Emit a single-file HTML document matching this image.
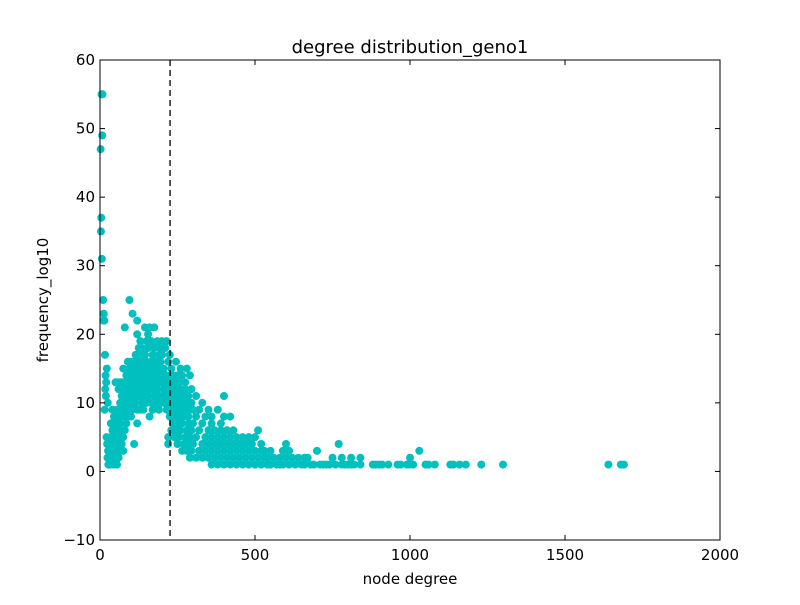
<!DOCTYPE html>
<html><head><meta charset="utf-8"><style>
body{margin:0;background:#fff}
svg text{font-family:"DejaVu Sans","Liberation Sans",sans-serif;fill:#000}
</style></head><body>
<svg id="chart" width="800" height="600">
<rect width="800" height="600" fill="#fff"/>
</svg>
<script>
const xTicks=[0,500,1000,1500,2000];
const yTicks=[-10,0,10,20,30,40,50,60];
const degrees=[2,5,8,7,4,3,6,10,12,11,14,16,18,20,17,19,15,22,25,21,23,26,24,28,30,27,
35,40,45,50,55,60,65,70,75,80,85,90,95,100,105,110,115,120,125,130,135,140,145,150,155,160,165,170,175,180,185,190,195,200,205,210,215,220,225,230,235,240,245,250,255,260,265,270,275,280,285,290,295,300,310,320,330,340,350,360,370,380,390,400,410,420,430,440,450,460,470,480,490,500,510,520,530,540,550,560,570,580,590,600,610,620,630,640,650,660,670,680,690,700,710,720,730,740,750,760,770,780,790,800,810,820,840,880,890,900,910,930,960,970,990,1000,1010,1030,1050,1060,1080,1130,1140,1160,1180,1230,1300,1640,1680,1690];
const frequencies=[[47],[55],[55],[49],[37],[35],[31],[25],[23],[22],[22],[17],[14],[13],[12],[11],[9],[15],[10],[5],[4],[3],[2],[1],[4],[1],
[1,3,5,7],[2,4,6,9],[1,3,5,8],[2,4,6,7,13],[1,3,5,9],[2,4,6,8,12,13],[3,5,7,9,10],[4,6,8,11,13],[3,5,9,12,15],[6,8,10,13,21],[7,9,11,14],[8,10,12,16],[9,11,13,15,25],[8,10,14,16],[9,12,15,23],[4,11,13,16],[10,12,14,17],[7,9,13,15,20,22],[11,14,16,18],[9,12,17,19],[10,13,15,18],[9,11,14,16],[12,15,17,21],[10,13,16,19],[11,14,18,20],[8,12,15,21],[10,13,16,19],[9,12,14,17],[11,15,18,21],[10,13,16],[12,14,19],[9,11,15,17],[10,13,16,18],[11,14,17,19],[10,12,15],[11,13,18],[9,12,14,19],[4,5,10,16],[8,11,13,17],[6,9,12,15],[7,10,14],[5,8,11,13],[6,9,12,16],[4,7,10,14],[5,8,11,13],[6,9,12,15],[3,7,10,14],[4,8,11],[5,9,12,13],[3,6,10,15],[4,7,8,11],[2,5,9,14],[3,6,10,12],[4,7,9],[2,5,8,11],[3,6,9],[2,4,7,10],[3,5,8],[2,4,6,9],[1,3,5,7,8],[2,4,6],[1,3,5,9],[2,4,6,7],[1,3,5,8,11],[2,4,6],[1,3,5,8],[2,4,6],[1,3,5],[2,4],[1,3,5],[2,4],[1,3,5],[2,4],[1,3,5],[2,6],[1,3,4],[2,3],[1,2],[1,3],[2],[1],[1,2],[1,3],[2,4],[1,3],[2],[1],[2],[1],[1,2],[2],[1],[1],[3],[1],[1],[1],[1],[2],[1],[4],[1,2],[1],[1],[1,2],[1],[1,2],[1],[1],[1],[1],[1],[1],[1],[1],[1,2],[1],[3],[1],[1],[1],[1],[1],[1],[1],[1],[1],[1],[1],[1],[1]];
const cutoff=226;
const L=100,R=720,T=60,B=540;
const X=v=>L+(v-0)/(2000-0)*(R-L);
const Y=v=>B-(v+10)/(70)*(B-T);
const NS='http://www.w3.org/2000/svg';
const svg=document.getElementById('chart');
function mk(t,a,txt){const e=document.createElementNS(NS,t);for(const k in a)e.setAttribute(k,a[k]);if(txt!==undefined)e.textContent=txt;svg.appendChild(e);return e;}
const g=mk('g',{});


degrees.forEach((d,i)=>{frequencies[i].forEach(f=>{
 const c=document.createElementNS(NS,'circle');
 c.setAttribute('cx',X(d));c.setAttribute('cy',Y(f));c.setAttribute('r',4);c.setAttribute('fill','#00bfbf');
 
 
 g.appendChild(c);});});
const cl=mk('line',{x1:X(cutoff),x2:X(cutoff),y1:T,y2:B,stroke:'#000','stroke-width':1.3,'stroke-dasharray':'6,4'});


const fr=mk('rect',{x:L,y:T,width:R-L,height:B-T,fill:'none',stroke:'#000','stroke-width':1});


xTicks.forEach(t=>{const x=X(t);
 mk('line',{x1:x,x2:x,y1:B,y2:B-5,stroke:'#000'});mk('line',{x1:x,x2:x,y1:T,y2:T+5,stroke:'#000'});
 const tx=mk('text',{x:x,y:B+20,'text-anchor':'middle','font-size':15},t);
 
 });
yTicks.forEach(t=>{const y=Y(t);
 mk('line',{x1:L,x2:L+5,y1:y,y2:y,stroke:'#000'});mk('line',{x1:R,x2:R-5,y1:y,y2:y,stroke:'#000'});
 const tx=mk('text',{x:L-5,y:y+5,'text-anchor':'end','font-size':15},t<0?'\u2212'+(-t):t);
 
 });
const ti=mk('text',{x:410,y:53,'text-anchor':'middle','font-size':18},'degree distribution_geno1');


const xl=mk('text',{x:410,y:584,'text-anchor':'middle','font-size':15},'node degree');


const yl=mk('text',{x:48,y:300,'text-anchor':'middle','font-size':15,transform:'rotate(-90 48 300)'},'frequency_log10');


</script>
</body></html>
